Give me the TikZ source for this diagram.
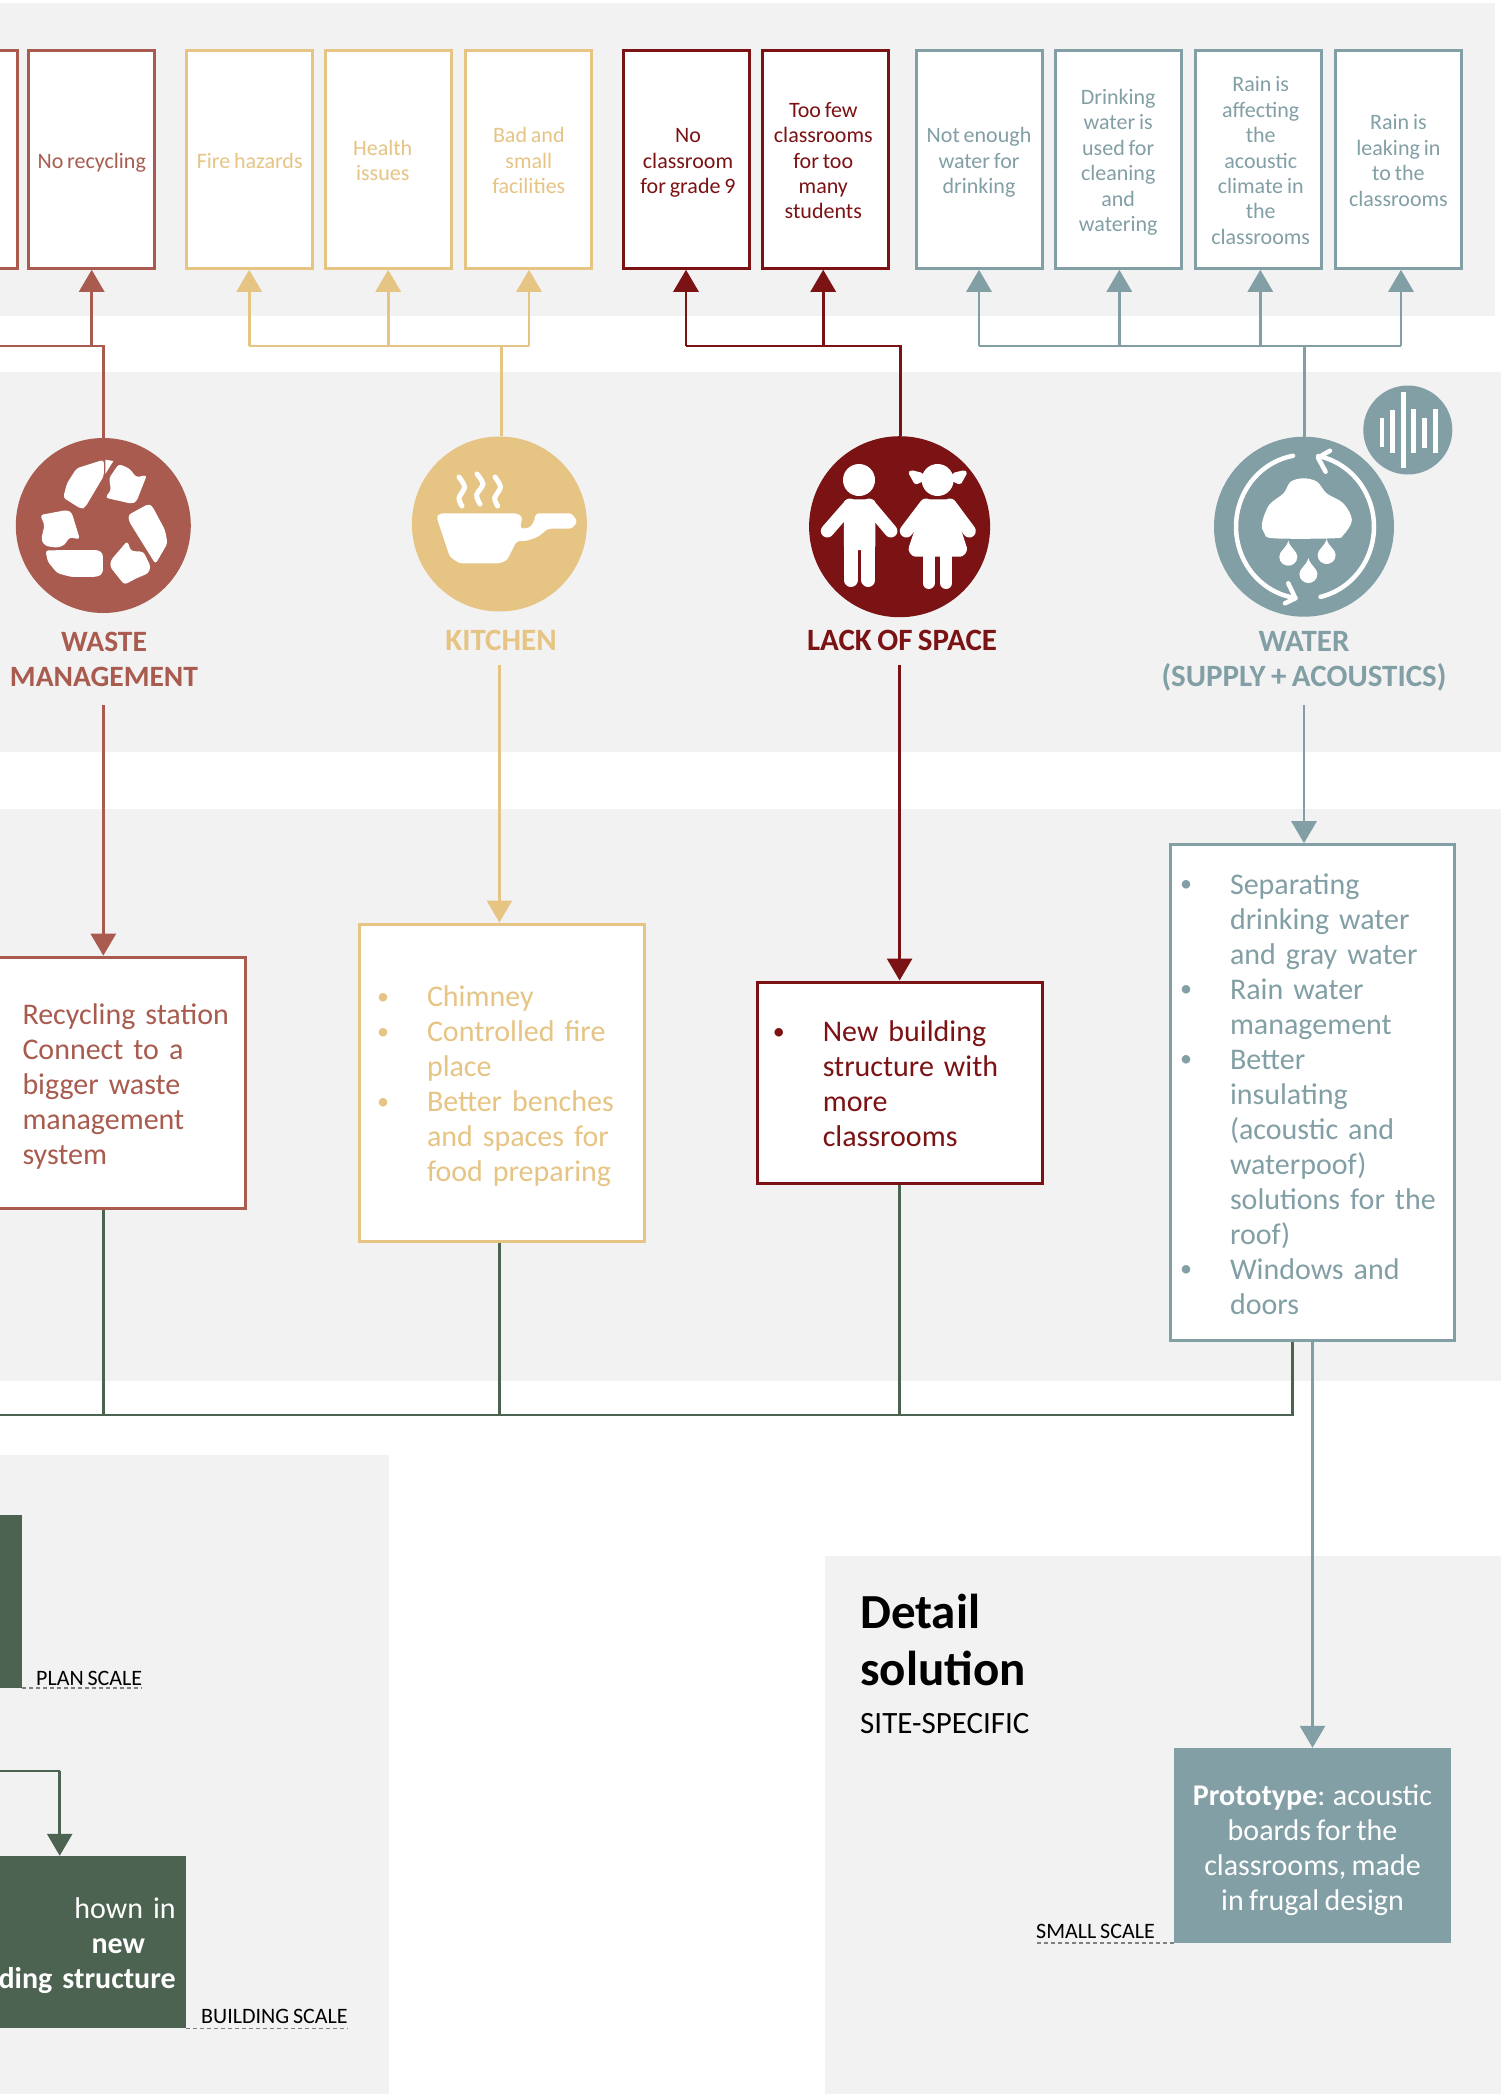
\documentclass[tikz,border=0pt]{standalone}
\usepackage{fontspec}
\setmainfont[WordSpace=0.78]{Carlito}
\usepackage{xcolor}
\usepackage{tikz}
\usetikzlibrary{arrows.meta}
\definecolor{fond}{HTML}{F2F2F2}
\definecolor{dechet}{HTML}{A85B4E}
\definecolor{cuisine}{HTML}{E6C484}
\definecolor{espace}{HTML}{7B1214}
\definecolor{eau}{HTML}{829FA5}
\definecolor{vert}{HTML}{4B6350}
\def\puce{\makebox[0pt][r]{\raisebox{2.5pt}{\fontsize{24}{24}\selectfont\textbullet}\hspace{38pt}}}
\def\hautligne{\vrule width 0pt height 30pt depth 0pt}
\def\basligne{\vrule width 0pt height 0pt depth 7pt\endgraf}
\def\hautcourt{\vrule width 0pt height 21pt depth 0pt}
\def\bascourt{\vrule width 0pt height 0pt depth 4pt\endgraf}

\begin{document}
\begin{tikzpicture}[x=1pt,y=-1pt]
    % Styles
    \tikzstyle{fleche}=[-{Triangle[length=22pt,width=25pt]},line width=2.8pt]
    \tikzstyle{lien}=[line width=2.8pt]
    \tikzstyle{probleme}=[draw,fill=white,line width=3pt,inner sep=0pt,text width=126pt,minimum height=217.5pt,align=flush center,font=\fontsize{22}{25.4}\selectfont,execute at begin node=\hautcourt,execute at end node=\bascourt]
    \tikzstyle{solution}=[draw,fill=white,line width=3pt,inner sep=0pt,align=left,font=\fontsize{30}{35}\selectfont,execute at end node=\basligne]
    \tikzstyle{disque}=[circle,inner sep=0pt]
    \tikzstyle{titre}=[inner sep=0pt,align=center,font=\fontsize{31}{35}\selectfont\bfseries]
    \tikzstyle{echelle}=[inner sep=0pt,text=black,font=\fontsize{22}{25}\selectfont]
    \tikzstyle{tirets}=[line width=1.5pt,gray,dash pattern=on 4pt off 3pt]
    \useasboundingbox (0,0) rectangle (1501,2094);
    % Fonds
    \fill[fond] (0,3) rectangle (1495,316);
    \fill[fond] (0,372) rectangle (1501,752);
    \fill[fond] (0,809) rectangle (1501,1381);
    \fill[fond] (0,1455) rectangle (389,2094);
    \fill[fond] (825,1556) rectangle (1501,2094);
    % Problemes
    \node[probleme,draw=dechet,text width=30pt] (Pz) at (2,159.5) {};
    \node[probleme,draw=dechet,text=dechet] (Pa) at (91.7,159.5) {No recycling};
    \node[probleme,draw=cuisine,text=cuisine] (Pb) at (249.7,159.5) {Fire hazards};
    \node[probleme,draw=cuisine,text=cuisine,execute at begin node={\rightskip=11pt plus 1fil\hautcourt}] (Pc) at (388.2,159.5) {Health\\issues};
    \node[probleme,draw=cuisine,text=cuisine] (Pd) at (528.8,159.5) {Bad and\\small\\facilities};
    \node[probleme,draw=espace,text=espace,execute at begin node={\leftskip=4pt plus 1fil\hautcourt}] (Pe) at (686,159.5) {No\\classroom\\for grade 9};
    \node[probleme,draw=espace,text=espace,execute at begin node={\rightskip=4pt plus 1fil\hautcourt}] (Pf) at (825.3,159.5) {Too few\\classrooms\\for too\\many\\students};
    \node[probleme,draw=eau,text=eau] (Pg) at (979,159.5) {Not enough\\water for\\drinking};
    \node[probleme,draw=eau,text=eau] (Ph) at (1118.2,159.5) {Drinking\\water is\\used for\\cleaning\\and\\watering};
    \node[probleme,draw=eau,text=eau,execute at begin node={\leftskip=5pt plus 1fil\hautcourt}] (Pi) at (1258.2,159.5) {Rain is\\affecting\\the\\acoustic\\climate in\\the\\classrooms};
    \node[probleme,draw=eau,text=eau] (Pj) at (1398.4,159.5) {Rain is\\leaking in\\to the\\classrooms};
    % Disques et titres
    \node[disque,fill=dechet,minimum size=175pt] (Cd) at (103.3,525.5) {};
    \node[disque,fill=cuisine,minimum size=175pt] (Cc) at (499.4,524) {};
    \node[disque,fill=espace,minimum size=181pt] (Ce) at (899.6,526.7) {};
    \node[disque,fill=eau,minimum size=180pt] (Cw) at (1304,526.7) {};
    \node[disque,fill=eau,minimum size=89pt] (Cs) at (1407.8,430) {};
    \node[titre,text=dechet,font=\fontsize{29.5}{35}\selectfont\bfseries] (Td) at (104,659) {WASTE\\MANAGEMENT};
    \node[titre,text=cuisine] (Tc) at (501,640.3) {KITCHEN};
    \node[titre,text=espace] (Te) at (902,640.3) {LACK OF SPACE};
    \node[titre,text=eau] (Tw) at (1304,661.5) {WATER\\(SUPPLY + ACOUSTICS)};
    % Solutions
    \node[solution,draw=dechet,text=dechet,minimum height=251pt,text width=265pt,execute at begin node={\leftskip=42pt\hautligne}] (Bd) at (113,1082.7) {Recycling station\\Connect to a\\bigger waste\\management\\system};
    \node[solution,draw=cuisine,text=cuisine,minimum height=317pt,text width=285pt,execute at begin node={\leftskip=67.3pt\hautligne}] (Bc) at (502.2,1082.5) {\puce Chimney\\\puce Controlled fire\\place\\\puce Better benches\\and spaces for\\food preparing};
    \node[solution,draw=espace,text=espace,minimum height=201pt,text width=285pt,execute at begin node={\leftskip=65pt\hautligne}] (Be) at (900.3,1082.5) {\puce New building\\structure with\\more\\classrooms};
    \node[solution,draw=eau,text=eau,minimum height=496pt,text width=284pt,execute at begin node={\leftskip=59.7pt\hautligne}] (Bw) at (1312.3,1092.7) {\puce Separating\\drinking water\\and gray water\\\puce Rain water\\management\\\puce Better\\insulating\\(acoustic and\\waterpoof)\\solutions for the\\roof)\\\puce Windows and\\doors};
    % Echelles
    \node[fill=vert,inner sep=0pt,minimum width=72pt,minimum height=173pt] (Ep) at (-14,1601.5) {};
    \node[fill=vert,text=white,inner sep=0pt,minimum height=172.5pt,text width=196pt,align=right,font=\fontsize{30}{35}\selectfont,execute at begin node={\rightskip=10pt\hautligne},execute at end node=\basligne] (Eb) at (87.7,1942.2) {hown in \textbf{new}\hspace*{30.7pt}\mbox{}\\\textbf{ding structure}};
    \node[fill=eau,text=white,inner sep=0pt,text width=277pt,minimum height=195pt,align=flush center,font=\fontsize{30}{35}\selectfont,execute at begin node={\vrule width 0pt height 32pt depth 0pt},execute at end node=\basligne] (Pr) at (1312.5,1845.5) {\textbf{Prototype}: acoustic\\boards for the\\classrooms, made\\in frugal design};
    \node[echelle,anchor=base west] (Lp) at (36,1685) {PLAN SCALE};
    \node[echelle,anchor=base west] (Lb) at (201,2023) {BUILDING SCALE};
    \node[echelle,anchor=base west] (Ls) at (1036,1938.6) {SMALL SCALE};
    \node[anchor=base west,inner sep=0pt,align=left,font=\fontsize{49}{57}\selectfont\bfseries] (Ds) at (860,1685) {Detail\\solution};
    \node[anchor=base west,inner sep=0pt,font=\fontsize{31}{34}\selectfont] (Sp) at (860,1733.6) {SITE-SPECIFIC};
    \draw[tirets] (Ep.south east) -- (Ep.south east -| Lp.east);
    \draw[tirets] (Eb.south east) -- (Eb.south east -| Lb.east);
    \draw[tirets] (Pr.south west) -- (Pr.south west -| Ls.west);
    % Jonctions
    \coordinate (Gd) at (0,346);
    \coordinate (Ja) at (91.7,346);
    \coordinate (Jc) at (501.7,346);
    \coordinate (Jb) at (249.2,346);
    \coordinate (Jh) at (388.2,346);
    \coordinate (Jd) at (529,346);
    \coordinate (Je) at (686,346);
    \coordinate (Jf) at (823.2,346);
    \coordinate (Js) at (900.2,346);
    \coordinate (Jg) at (979,346);
    \coordinate (Jk) at (1119.3,346);
    \coordinate (Ji) at (1260.3,346);
    \coordinate (Jj) at (1401,346);
    \coordinate (Jw) at (1304.8,346);
    \coordinate (Hb) at (0,705);
    \coordinate (Hc) at (0,665);
    \coordinate (Gv) at (0,1415);
    \coordinate (Gw) at (1292.7,1415);
    \coordinate (Gf) at (0,1771);
    \coordinate (Df) at (59.7,1771);
    % Arcs
    \draw[lien,dechet] (Gd) -| (Cd.north);
    \draw[fleche,dechet] (Ja) -- (Ja |- Pa.south);
    \draw[lien,cuisine] (Jc) -- (Jc |- Cc.north);
    \draw[lien,cuisine] (Jb) -- (Jd);
    \draw[fleche,cuisine] (Jb) -- (Jb |- Pb.south);
    \draw[fleche,cuisine] (Jh) -- (Jh |- Pc.south);
    \draw[fleche,cuisine] (Jd) -- (Jd |- Pd.south);
    \draw[lien,espace] (Je) -- (Js) -- (Js |- Ce.north);
    \draw[fleche,espace] (Je) -- (Je |- Pe.south);
    \draw[fleche,espace] (Jf) -- (Jf |- Pf.south);
    \draw[lien,eau] (Jg) -- (Jj);
    \draw[lien,eau] (Jw) -- (Jw |- Cw.north);
    \draw[fleche,eau] (Jg) -- (Jg |- Pg.south);
    \draw[fleche,eau] (Jk) -- (Jk |- Ph.south);
    \draw[fleche,eau] (Ji) -- (Ji |- Pi.south);
    \draw[fleche,eau] (Jj) -- (Jj |- Pj.south);
    \draw[fleche,dechet] (Cd |- Hb) -- (Cd |- Bd.north);
    \draw[fleche,cuisine] (Cc |- Hc) -- (Cc |- Bc.north);
    \draw[fleche,espace] (Ce |- Hc) -- (Ce |- Be.north);
    \draw[fleche,eau] (Cw |- Hb) -- (Cw |- Bw.north);
    \draw[lien,vert] (Gv) -- (Gw) -- (Gw |- Bw.south);
    \draw[lien,vert] (Cd |- Bd.south) -- (Cd |- Gv);
    \draw[lien,vert] (Cc |- Bc.south) -- (Cc |- Gv);
    \draw[lien,vert] (Ce |- Be.south) -- (Ce |- Gv);
    \draw[fleche,eau] (Pr.north |- Bw.south) -- (Pr.north);
    \draw[lien,vert] (Gf) -- (Df);
    \draw[fleche,vert] (Df) -- (Df |- Eb.north);
    % Pictogramme recyclage
    \begin{scope}[fill=white,rounded corners=3pt]
    \fill (63.2,497.7) -- (81.3,509) -- (85.2,507.3) -- (103.8,476) -- (103.8,459.7) -- (76.6,468.3) -- (67,483.3) -- cycle;
    \fill[rounded corners=0pt] (105.3,459.7) -- (113.4,461) -- (105.3,474) -- cycle;
    \fill (118.7,464) -- (109,478.3) -- (111,490) -- (105.3,497.7) -- (131.6,503.7) -- (136.4,501.7) -- (146.9,475) -- (136.4,477.3) -- (129.2,468.3) -- cycle;
    \fill (128.2,515) -- (148.3,504) -- (152.2,506) -- (165,530) -- (167.5,543.3) -- (155.5,564) -- (129.2,521.7) -- cycle;
    \fill (127.3,541) -- (131,551) -- (143.5,551.7) -- (150.7,566.7) -- (148.3,573.3) -- (136.4,578.3) -- (124.4,584.7) -- (110,566.7) -- (111,560) -- cycle;
    \fill (45.5,550.3) -- (98,550) -- (102.9,553.3) -- (102.9,573.3) -- (98,576.7) -- (71.8,577) -- (57.4,573.3) -- (47.8,561.7) -- cycle;
    \fill (40.2,515) -- (67,510) -- (71.8,512.7) -- (79.9,539.3) -- (69.4,537.3) -- (64.6,545) -- (57.4,547.7) -- (45.5,546) -- (41.1,540) -- (44.5,525) -- cycle;
    \end{scope}
    % Pictogramme casserole
    \fill[white,rounded corners=3pt] (436.4,516.7) -- (440.2,513.3) -- (516.7,513.3) -- (522.5,516.7) -- (520,528.3) -- (528.7,528.3) -- (533.5,523) -- (535.9,513.3) -- (571.8,513.3) -- (577.5,521.7) -- (571.8,528.7) -- (547.8,528.7) -- (538.3,536.7) -- (526.3,541) -- (516.7,541) -- (507.2,560) -- (500,563.3) -- (459.3,563.3) -- (449.8,556.7) -- cycle;
    \draw[white,line width=5pt,line cap=round] plot[smooth] coordinates {(459,477) (464.6,487) (459,498) (462,506)};
    \draw[white,line width=5pt,line cap=round] plot[smooth] coordinates {(477,474) (483,484) (476.6,495) (480,504)};
    \draw[white,line width=5pt,line cap=round] plot[smooth] coordinates {(495,477) (500.5,487) (494.7,498) (497.6,506)};
    % Pictogramme enfants
    \fill[white] (859,480) circle (16);
    \fill[white,rounded corners=4pt] (843.8,499.3) rectangle (875.4,550);
    \draw[white,line width=13pt,line cap=round] (850,505) -- (827.3,531);
    \draw[white,line width=13pt,line cap=round] (869,505) -- (890.9,531);
    \draw[white,line width=14pt,line cap=round] (850.8,540) -- (850.8,580);
    \draw[white,line width=14pt,line cap=round] (868.4,540) -- (868.4,580);
    \fill[white] (937.6,480) circle (16);
    \fill[white,rounded corners=2pt] (907.9,472) -- (911,470) -- (923,473) -- (926,480) -- (915,485) -- cycle;
    \fill[white,rounded corners=2pt] (967.7,472) -- (964.5,470) -- (952.5,473) -- (949.5,480) -- (960.5,485) -- cycle;
    \fill[white,rounded corners=3pt] (924.6,499.3) -- (951,499.3) -- (967.7,550) -- (963,556.7) -- (912.7,556.7) -- (907.9,550) -- cycle;
    \draw[white,line width=13pt,line cap=round] (926,505) -- (906.3,531);
    \draw[white,line width=13pt,line cap=round] (950,505) -- (969.3,531);
    \draw[white,line width=12pt,line cap=round] (928.5,556) -- (928.5,583);
    \draw[white,line width=12pt,line cap=round] (946.2,556) -- (946.2,583);
    % Pictogramme pluie
    \fill[white] plot[smooth cycle,tension=0.55] coordinates {(1262,523.3) (1269.1,505) (1283.5,493.3) (1290.7,481.7) (1303.6,478.3) (1317,481.7) (1326.6,493.3) (1343.3,503.3) (1351.9,520) (1343.3,535) (1333.7,538.3) (1273.9,538.3) (1264.4,533.3)};
    \foreach \gx/\gy in {1288.3/556.7,1326.6/555,1308.4/574}
        \fill[white] (\gx,\gy-16) .. controls (\gx+2,\gy-8) and (\gx+9,\gy-6) .. (\gx+9,\gy) .. controls (\gx+9,\gy+6) and (\gx+4,\gy+9) .. (\gx,\gy+9) .. controls (\gx-4,\gy+9) and (\gx-9,\gy+6) .. (\gx-9,\gy) .. controls (\gx-9,\gy-6) and (\gx-2,\gy-8) .. (\gx,\gy-16) -- cycle;
    \draw[white,line width=4.5pt,line cap=round] plot[domain=260:98,samples=40] ({1305+69*cos(\x)},{526.7+72*sin(\x)});
    \draw[white,line width=4.5pt,line cap=round] plot[domain=77:-79,samples=40] ({1305+69*cos(\x)},{526.7+72*sin(\x)});
    \draw[white,line width=4.5pt,line cap=round,line join=round] (1288.3,583.3) -- (1295.4,598.3) -- (1285,603.3);
    \draw[white,line width=4.5pt,line cap=round,line join=round] (1330,450.7) -- (1318,457.7) -- (1325.6,471.7);
    % Pictogramme son
    \foreach \sx/\sa/\sb in {1382/418/447.3,1392.6/410/453.3,1403.6/392.3/468.3,1413.6/409.3/452.7,1424.7/418.3/447.7,1435.2/409.3/452.7}
        \fill[white] (\sx-2.3,\sa) rectangle (\sx+2.3,\sb);
\end{tikzpicture}
\end{document}
